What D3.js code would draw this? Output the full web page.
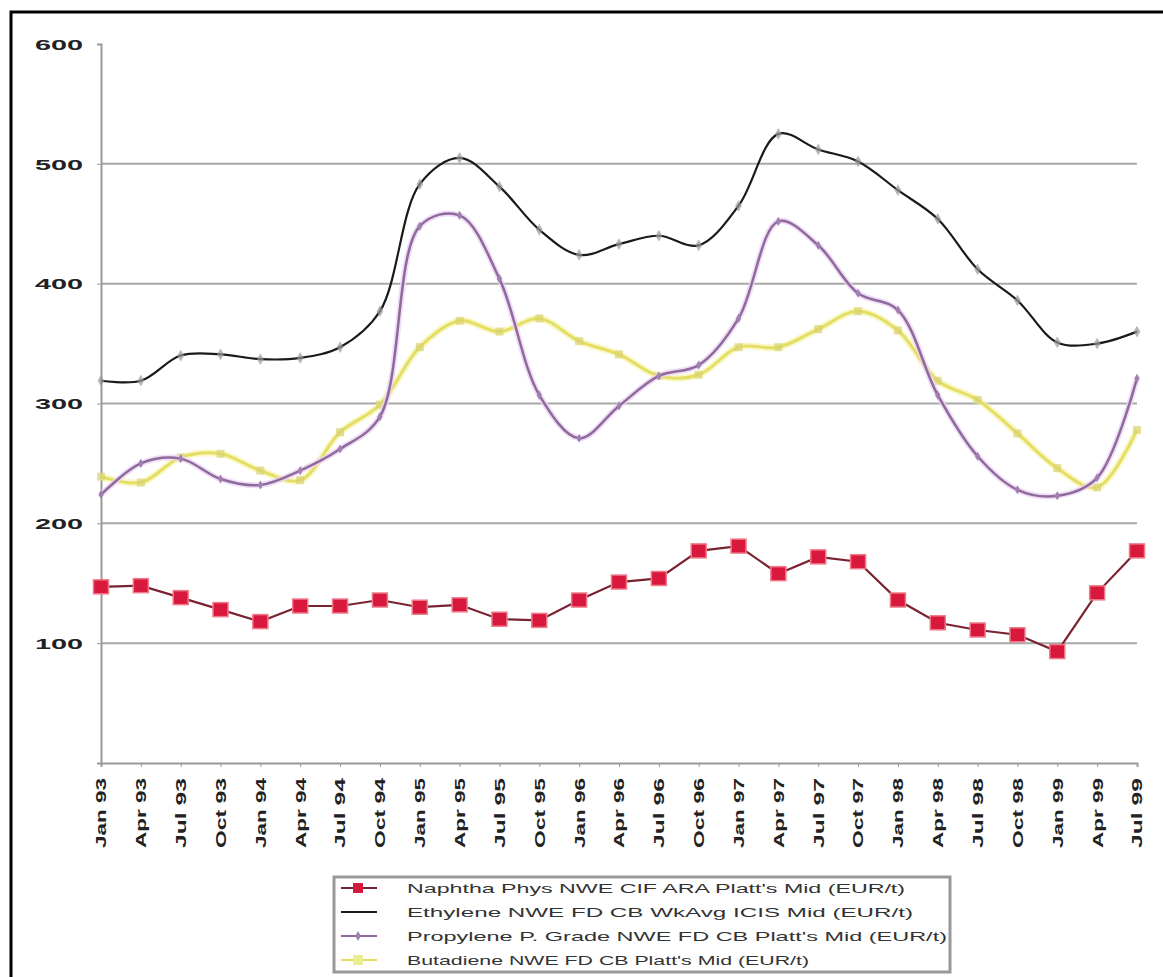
<!DOCTYPE html>
<html>
<head>
<meta charset="utf-8">
<script src="https://cdn.jsdelivr.net/npm/d3@7/dist/d3.min.js"></script>
<style>
  html, body { margin: 0; padding: 0; background: #fff; }
  svg { display: block; }
  text { font-family: "Liberation Sans", Arial, sans-serif; }
</style>
</head>
<body>
<svg id="chart" width="1163" height="977"></svg>
<script>
// Quarterly petrochemical prices, EUR/t, Jan 1993 – Jul 1999
const quarters = ["Jan 93","Apr 93","Jul 93","Oct 93","Jan 94","Apr 94","Jul 94","Oct 94",
  "Jan 95","Apr 95","Jul 95","Oct 95","Jan 96","Apr 96","Jul 96","Oct 96",
  "Jan 97","Apr 97","Jul 97","Oct 97","Jan 98","Apr 98","Jul 98","Oct 98",
  "Jan 99","Apr 99","Jul 99"];

const naphtha   = [147,148,138,128,118,131,131,136,130,132,120,119,136,151,154,177,
                   181,158,172,168,136,117,111,107,93,142,177];
const ethylene  = [319,319,340,341,337,338,347,377,483,505,481,445,424,433,440,432,
                   465,525,512,502,478,454,412,386,351,350,360];
const propylene = [224,250,254,237,232,244,262,289,448,457,404,307,271,298,323,332,
                   371,452,432,392,378,307,256,228,223,238,321];
const butadiene = [239,234,255,258,244,236,276,299,347,369,360,371,352,341,323,324,
                   347,347,362,377,361,319,303,275,246,230,278];

const yTicks = [100,200,300,400,500,600];

const seriesNames = [
  "Naphtha Phys NWE CIF ARA Platt's Mid (EUR/t)",
  "Ethylene NWE FD CB WkAvg ICIS Mid (EUR/t)",
  "Propylene P. Grade NWE FD CB Platt's Mid (EUR/t)",
  "Butadiene NWE FD CB Platt's Mid (EUR/t)"
];

const svg = d3.select("#chart");

// outer frame (left and top edges)
svg.append("path").attr("d", "M11,977 V12 H1163")
  .attr("fill", "none").attr("stroke", "#000").attr("stroke-width", 3);

const x = d3.scalePoint().domain(quarters).range([101, 1137]).padding(0);
const y = d3.scaleLinear().domain([0, 600]).range([763, 44]);

// horizontal gridlines
svg.append("g").selectAll("line").data(yTicks.filter(d => d < 600)).join("line")
  .attr("x1", 101).attr("x2", 1137)
  .attr("y1", d => y(d)).attr("y2", d => y(d))
  .attr("stroke", "#a8a8a8").attr("stroke-width", 2);

// y axis
const yAxis = svg.append("g").attr("transform", "translate(101,0)")
  .call(d3.axisLeft(y).tickValues(yTicks).tickSize(4).tickFormat(d3.format("d")));
yAxis.select(".domain").attr("stroke", "#999").attr("stroke-width", 2);
yAxis.selectAll(".tick line").attr("stroke", "#999");
yAxis.selectAll(".tick text")
  .attr("x", -18).attr("dy", "0.35em")
  .attr("font-size", 15).attr("font-weight", "bold").attr("fill", "#222")
  .attr("textLength", 48).attr("lengthAdjust", "spacingAndGlyphs");

// x axis
const xAxis = svg.append("g").attr("transform", `translate(0,${y(0)})`)
  .call(d3.axisBottom(x).tickSize(4));
xAxis.select(".domain").attr("stroke", "#999").attr("stroke-width", 2);
xAxis.selectAll(".tick line").attr("stroke", "#999");
xAxis.selectAll(".tick text")
  .attr("transform", "rotate(-90)")
  .attr("x", -15).attr("y", 0).attr("dy", "0.35em")
  .attr("text-anchor", "end")
  .attr("font-size", 14).attr("font-weight", "bold").attr("fill", "#222")
  .attr("textLength", 70).attr("lengthAdjust", "spacingAndGlyphs");

const smooth = d3.line().x((d, i) => x(quarters[i])).y(d => y(d)).curve(d3.curveCatmullRom.alpha(0.5));
const straight = d3.line().x((d, i) => x(quarters[i])).y(d => y(d));

// Butadiene
svg.append("path").datum(butadiene).attr("d", smooth)
  .attr("fill", "none").attr("stroke", "#f6f3b0").attr("stroke-width", 7).attr("opacity", 0.7);
svg.append("path").datum(butadiene).attr("d", smooth)
  .attr("fill", "none").attr("stroke", "#e4de62").attr("stroke-width", 3);
svg.append("g").selectAll("rect").data(butadiene).join("rect")
  .attr("x", (d, i) => x(quarters[i]) - 4).attr("y", d => y(d) - 4)
  .attr("width", 8).attr("height", 8).attr("fill", "#d8d270").attr("opacity", 0.7);

// Propylene
svg.append("path").datum(propylene).attr("d", smooth)
  .attr("fill", "none").attr("stroke", "#ecd4f4").attr("stroke-width", 6).attr("opacity", 0.8);
svg.append("path").datum(propylene).attr("d", smooth)
  .attr("fill", "none").attr("stroke", "#8e6a9c").attr("stroke-width", 2.5);
svg.append("g").selectAll("path").data(propylene).join("path")
  .attr("transform", (d, i) => `translate(${x(quarters[i])},${y(d)})`)
  .attr("d", d3.symbol(d3.symbolDiamond, 24))
  .attr("fill", "#a080b0");

// Ethylene
svg.append("path").datum(ethylene).attr("d", smooth)
  .attr("fill", "none").attr("stroke", "#1a1a1a").attr("stroke-width", 2.2);
svg.append("g").selectAll("path").data(ethylene).join("path")
  .attr("transform", (d, i) => `translate(${x(quarters[i])},${y(d)})`)
  .attr("d", d3.symbol(d3.symbolDiamond, 40))
  .attr("fill", "#999").attr("opacity", 0.7);

// Naphtha
svg.append("path").datum(naphtha).attr("d", straight)
  .attr("fill", "none").attr("stroke", "#7a2230").attr("stroke-width", 2.2);
svg.append("g").selectAll("rect").data(naphtha).join("rect")
  .attr("x", (d, i) => x(quarters[i]) - 7.5).attr("y", d => y(d) - 7)
  .attr("width", 15).attr("height", 14)
  .attr("fill", "#d8183c").attr("stroke", "#f07a8a").attr("stroke-width", 1.5);

// legend
const lg = svg.append("g");
lg.append("rect").attr("x", 334).attr("y", 877).attr("width", 616).attr("height", 95)
  .attr("fill", "#fff").attr("stroke", "#999").attr("stroke-width", 3);
const rowY = [888, 912, 936, 960];
const legendStyles = [
  {stroke: "#7a2230", marker: "square", fill: "#d8183c"},
  {stroke: "#1a1a1a", marker: "none"},
  {stroke: "#8e6a9c", marker: "diamond", fill: "#a080b0"},
  {stroke: "#e4de62", marker: "square", fill: "#ecec90"}
];
const textLens = [498, 506, 540, 402];
seriesNames.forEach((name, i) => {
  const st = legendStyles[i];
  lg.append("line").attr("x1", 341).attr("x2", 377).attr("y1", rowY[i]).attr("y2", rowY[i])
    .attr("stroke", st.stroke).attr("stroke-width", 2);
  if (st.marker === "square") {
    lg.append("rect").attr("x", 353).attr("y", rowY[i] - 5).attr("width", 10).attr("height", 10)
      .attr("fill", st.fill);
  } else if (st.marker === "diamond") {
    lg.append("path").attr("transform", `translate(358,${rowY[i]})`)
      .attr("d", d3.symbol(d3.symbolDiamond, 30)).attr("fill", st.fill);
  }
  lg.append("text").attr("x", 407).attr("y", rowY[i]).attr("dy", "0.35em")
    .attr("font-size", 13).attr("fill", "#333")
    .attr("textLength", textLens[i]).attr("lengthAdjust", "spacingAndGlyphs")
    .text(name);
});
</script>
</body>
</html>
